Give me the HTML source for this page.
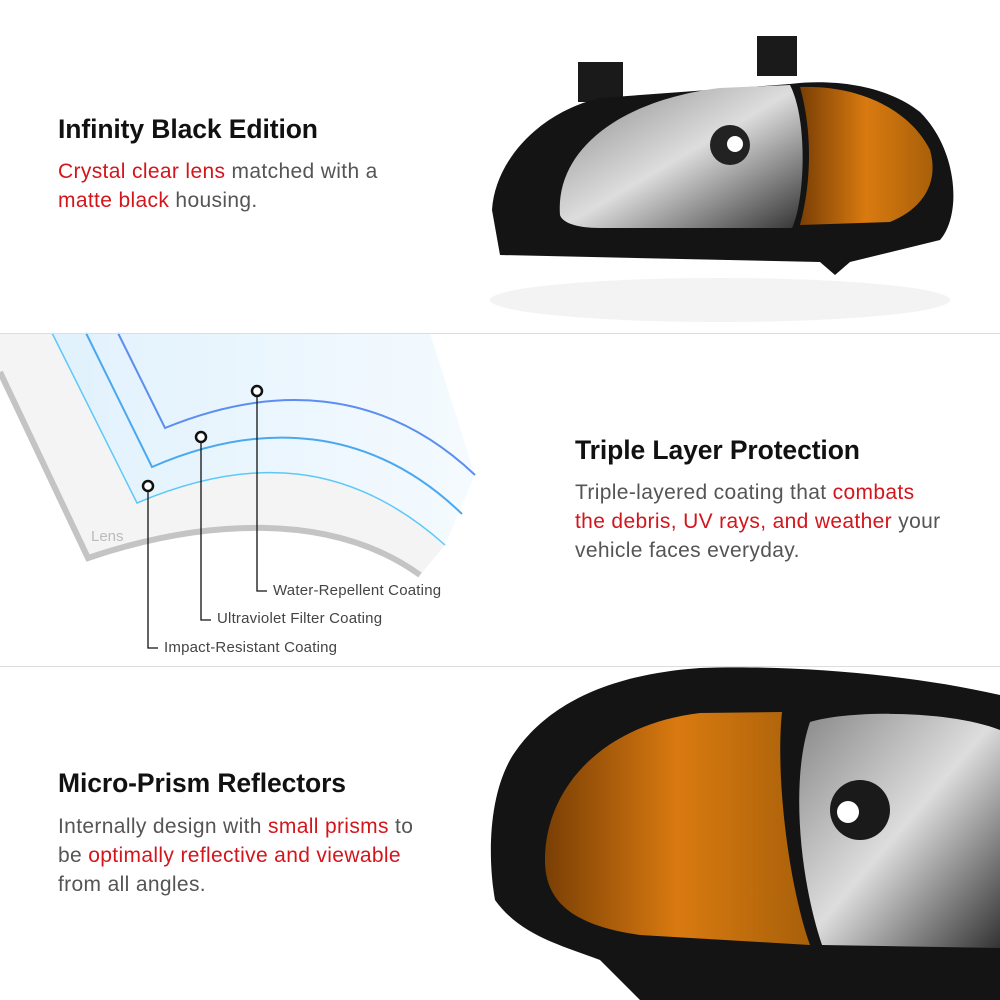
<!DOCTYPE html>
<html><head><style>
body{margin:0;width:1000px;height:1000px;background:#fff;position:relative;overflow:hidden;font-family:"Liberation Sans",sans-serif}
.t{position:absolute;font-size:26.5px;font-weight:bold;color:#111;white-space:nowrap;letter-spacing:-0.1px}
.p{position:absolute;font-size:21px;color:#555;line-height:29px;white-space:nowrap;letter-spacing:0.35px}
.r{color:#d3151c}
.hr{position:absolute;left:0;width:1000px;height:1px;background:#ddd}
.l{position:absolute;font-size:15px;color:#444;white-space:nowrap;letter-spacing:0.2px}
</style></head><body>
<svg width="1000" height="1000" style="position:absolute;left:0;top:0">
<defs>
<linearGradient id="cl" x1="0" y1="0" x2="1" y2="1"><stop offset="0" stop-color="#888"/><stop offset=".5" stop-color="#ddd"/><stop offset="1" stop-color="#333"/></linearGradient>
<linearGradient id="am" x1="0" y1="0" x2="1" y2="0"><stop offset="0" stop-color="#7a3f05"/><stop offset=".5" stop-color="#d97a10"/><stop offset="1" stop-color="#a8600a"/></linearGradient>
<linearGradient id="bl" x1="0" y1="0" x2="1" y2="0"><stop offset="0" stop-color="#d9eefc"/><stop offset="1" stop-color="#f2f9fe"/></linearGradient>
</defs>
<ellipse cx="720" cy="300" rx="230" ry="22" fill="#f3f3f3"/>
<rect x="578" y="62" width="45" height="40" fill="#1a1a1a"/>
<rect x="757" y="36" width="40" height="40" fill="#1a1a1a"/>
<path d="M500,255 L820,262 L835,275 L850,262 L940,240 C962,215 958,150 920,112 C890,88 840,78 790,84 L600,98 C540,112 495,160 492,210 Z" fill="#141414"/>
<path d="M560,215 C555,150 620,100 720,88 L790,85 C808,120 805,200 792,228 L600,228 C575,228 562,222 560,215 Z" fill="url(#cl)"/>
<circle cx="730" cy="145" r="20" fill="#222"/><circle cx="735" cy="144" r="8" fill="#fff"/>
<path d="M800,87 C860,85 910,110 930,150 C940,185 920,210 890,222 L800,225 C812,180 812,130 800,87 Z" fill="url(#am)"/>
<path d="M0,333 L52,333 L137,503 C250,455 350,460 445,545 L420,575 C330,510 200,520 90,560 L0,380 Z" fill="#f4f4f4"/>
<path d="M0,372 L88,558 C200,520 330,510 420,575" fill="none" stroke="#c4c4c4" stroke-width="6"/>
<path d="M52,333 L137,503 C250,455 350,460 445,545 L475,475 L430,333 Z" fill="url(#bl)" opacity=".8"/>
<path d="M52,333 L137,503 C250,455 350,460 445,545" fill="none" stroke="#5cc8f8" stroke-width="1.5"/>
<path d="M86,333 L152,467 C260,420 370,425 462,514" fill="none" stroke="#4aa8f0" stroke-width="2"/>
<path d="M118,333 L165,428 C270,385 380,385 475,475" fill="none" stroke="#5b8ef0" stroke-width="2"/>
<g fill="#fff" stroke="#111" stroke-width="2.5">
<circle cx="148" cy="486" r="5"/><circle cx="201" cy="437" r="5"/><circle cx="257" cy="391" r="5"/></g>
<g stroke="#111" stroke-width="1.3" fill="none">
<path d="M148,491 V648 H158"/><path d="M201,442 V620 H211"/><path d="M257,396 V591 H267"/></g>
<text x="91" y="541" font-family="Liberation Sans" font-size="15" fill="#bbb">Lens</text>
<path d="M1000,695 C900,672 780,665 700,668 C600,675 540,710 510,760 C488,800 488,860 495,900 C520,935 560,945 600,960 L640,1000 L1000,1000 Z" fill="#141414"/>
<path d="M545,860 C545,790 600,725 700,713 L782,712 C775,780 790,890 810,945 L640,935 C570,925 545,900 545,860 Z" fill="url(#am)"/>
<path d="M810,722 C850,710 950,710 1000,730 L1000,948 L822,945 C800,880 790,780 810,722 Z" fill="url(#cl)"/>
<circle cx="860" cy="810" r="30" fill="#1a1a1a"/><circle cx="848" cy="812" r="11" fill="#fff"/>
</svg>
<div class="hr" style="top:333px"></div>
<div class="hr" style="top:666px"></div>
<div class="t" style="left:58px;top:114px">Infinity Black Edition</div>
<div class="p" style="left:58px;top:157px"><span class="r">Crystal clear lens</span> matched with a<br><span class="r">matte black</span> housing.</div>
<div class="t" style="left:575px;top:435px">Triple Layer Protection</div>
<div class="p" style="left:575px;top:478px">Triple-layered coating that <span class="r">combats</span><br><span class="r">the debris, UV rays, and weather</span> your<br>vehicle faces everyday.</div>
<div class="t" style="left:58px;top:768px">Micro-Prism Reflectors</div>
<div class="p" style="left:58px;top:812px">Internally design with <span class="r">small prisms</span> to<br>be <span class="r">optimally reflective and viewable</span><br>from all angles.</div>
<div class="l" style="left:273px;top:582px">Water-Repellent Coating</div>
<div class="l" style="left:217px;top:610px">Ultraviolet Filter Coating</div>
<div class="l" style="left:164px;top:639px">Impact-Resistant Coating</div>
</body></html>
